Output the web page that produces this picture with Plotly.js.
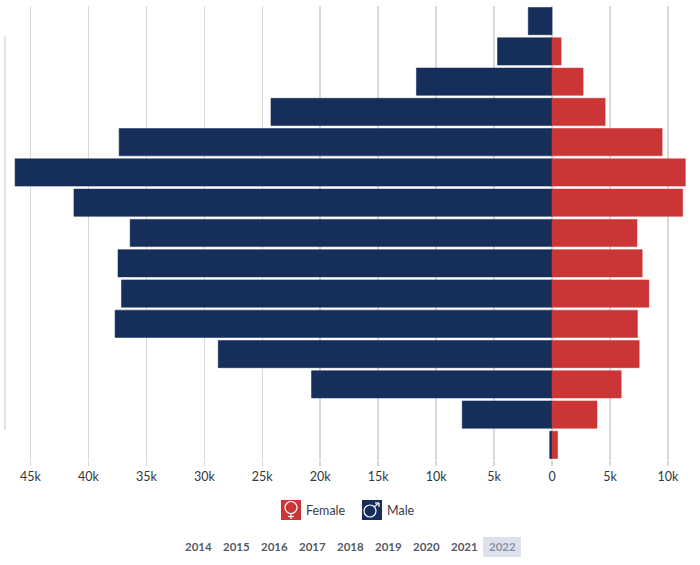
<!DOCTYPE html>
<html><head><meta charset="utf-8">
<script src="https://cdn.plot.ly/plotly-3.0.0.min.js"></script>
<style>html,body{margin:0;padding:0;background:#fff}#c{width:700px;height:565px}</style></head>
<body><div id="c"></div>
<script>
const rows = [14,13,12,11,10,9,8,7,6,5,4,3,2,1,0];
const maleK = [2.05,4.7,11.7,24.25,37.35,46.33,41.25,36.4,37.45,37.15,37.7,28.8,20.75,7.75,0.2];
const femaleK = [null,0.78,2.68,4.58,9.5,11.5,11.27,7.33,7.78,8.36,7.37,7.52,5.97,3.88,0.48];
const tickValsK = [-45,-40,-35,-30,-25,-20,-15,-10,-5,0,5,10];
const tickLabels = ['45k','40k','35k','30k','25k','20k','15k','10k','5k','0','5k','10k'];
const years = ['2014','2015','2016','2017','2018','2019','2020','2021','2022'];
const yearX = [198,236,274,312,350,388,426,464,502];
const W=700,H=565,L=5,R=14,T=6,B=105;
const px=x=>(x-L)/(W-L-R), py=y=>1-(y-T)/(H-T-B);
const FONT='Lato, sans-serif';
const NAVY='#152e5a', RED='#cc3535';
const rect=(x0,y0,x1,y1,fill,line,lw)=>({type:'rect',xref:'paper',yref:'paper',x0:px(x0),x1:px(x1),y0:py(y1),y1:py(y0),fillcolor:fill,line:{color:line||fill,width:lw||0},layer:'above'});
const circ=(cx,cy,r)=>({type:'circle',xref:'paper',yref:'paper',x0:px(cx-r),x1:px(cx+r),y0:py(cy+r),y1:py(cy-r),fillcolor:'rgba(0,0,0,0)',line:{color:'#fff',width:1.2},layer:'above'});
const seg=(x0,y0,x1,y1)=>({type:'line',xref:'paper',yref:'paper',x0:px(x0),x1:px(x1),y0:py(y0),y1:py(y1),line:{color:'#fff',width:1.2},layer:'above'});
const shapes=[
 {type:'line',xref:'paper',x0:0,x1:0,yref:'y',y0:0.5,y1:13.5,line:{color:'#e2e2e2',width:2},layer:'below'},
 rect(281,500,301,520,RED), circ(291,507.5,6), seg(291,513.5,291,519), seg(288,516.5,294,516.5),
 rect(362,500,382,520,NAVY), circ(370,511,6), seg(374.5,506.5,379,503), seg(375,503,379,503), seg(379,503,379,507),
 rect(483,537,521,557,'#dde1ec','#dde1ec',0)
];
const ann=[
 {text:'Female',x:px(304),y:py(510),xanchor:'left',yanchor:'middle',xref:'paper',yref:'paper',showarrow:false,font:{family:FONT,size:12.5,color:'#3a3d44'}},
 {text:'Male',x:px(385),y:py(510),xanchor:'left',yanchor:'middle',xref:'paper',yref:'paper',showarrow:false,font:{family:FONT,size:12.5,color:'#3a3d44'}}
];
years.forEach((t,i)=>ann.push({text:'<b>'+t+'</b>',x:px(yearX[i]),y:py(546),xanchor:'center',yanchor:'middle',xref:'paper',yref:'paper',showarrow:false,font:{family:FONT,size:11.5,color:t==='2022'?'#8d93a3':'#555a66'}}));
const bar=(name,vals,color,edge)=>({type:'bar',orientation:'h',name,y:rows,x:vals,marker:{color,line:{color:edge,width:1}},width:0.9,hoverinfo:'skip'});
Plotly.newPlot('c',[
 bar('Male',maleK.map(v=>-v),NAVY,'rgba(21,46,90,0.55)'),
 bar('Female',femaleK,RED,'rgba(204,53,53,0.55)')
],{
 width:W,height:H,margin:{l:L,r:R,t:T,b:B},paper_bgcolor:'#fff',plot_bgcolor:'#fff',showlegend:false,barmode:'relative',
 xaxis:{range:[-47.2,11.56],tickmode:'array',tickvals:tickValsK,ticktext:tickLabels,showgrid:true,gridcolor:'#d8d8d8',gridwidth:1.5,zeroline:true,zerolinecolor:'#d8d8d8',zerolinewidth:1.5,showline:false,ticks:'outside',ticklen:5,tickwidth:1.5,tickcolor:'#d8d8d8',tickfont:{family:FONT,size:12.5,color:'#33363c'},fixedrange:true},
 yaxis:{range:[-0.5,14.5],showgrid:false,zeroline:false,showticklabels:false,ticks:'',showline:false,fixedrange:true},
 shapes,annotations:ann
},{displayModeBar:false,staticPlot:true});
</script></body></html>
